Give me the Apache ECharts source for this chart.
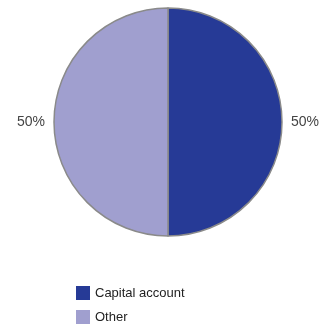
<!DOCTYPE html>
<html>
<head>
<meta charset="utf-8">
<script src="https://cdn.jsdelivr.net/npm/echarts@6/dist/echarts.min.js"></script>
<style>
  html, body { margin: 0; padding: 0; background: #fff; }
  #chart { width: 334px; height: 324px; }
</style>
</head>
<body>
<div id="chart"></div>
<script>
const categories = ["Capital account", "Other"];
const values = [50, 50];
const colors = ["#263a96", "#a09fcf"];
const legendTops = [286, 310];

const chart = echarts.init(document.getElementById("chart"));
chart.setOption({
  animation: false,
  color: colors,
  legend: categories.map((c, i) => ({
    left: 76,
    top: legendTops[i],
    padding: 0,
    itemWidth: 14,
    itemHeight: 14,
    icon: "rect",
    itemStyle: { borderWidth: 0 },
    textStyle: { fontFamily: "Liberation Sans", fontSize: 13, color: "#222" },
    data: [c]
  })),
  series: [{
    type: "pie",
    center: [168, 122],
    radius: 114,
    startAngle: 90,
    itemStyle: { borderColor: "#8a8a8a", borderWidth: 1.5 },
    label: {
      show: true,
      position: "outside",
      formatter: "{d}%",
      fontFamily: "Liberation Sans",
      fontSize: 14,
      color: "#444",
      distanceToLabelLine: 0
    },
    labelLine: { show: false, length: 9, length2: 0 },
    data: categories.map((c, i) => ({ name: c, value: values[i] }))
  }]
});
</script>
</body>
</html>
